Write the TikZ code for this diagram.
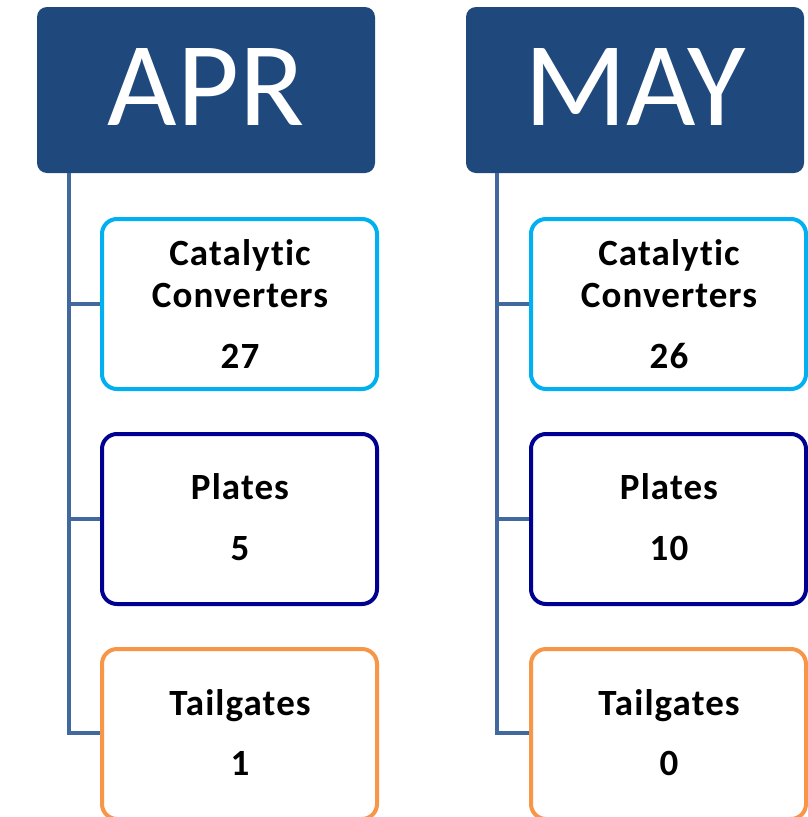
\documentclass[tikz,border=0pt]{standalone}
\usepackage{fontspec}
\setmainfont{Carlito}[Ligatures=NoCommon]
\newfontfamily\boxfont{Carlito}[Ligatures=NoCommon,LetterSpace=3]
\definecolor{hdr}{RGB}{31,73,125}
\definecolor{conn}{RGB}{65,105,158}
\definecolor{cyanb}{RGB}{0,176,240}
\definecolor{navyb}{RGB}{0,0,145}
\definecolor{orangeb}{RGB}{247,150,70}
\begin{document}
\begin{tikzpicture}[x=1pt,y=-1pt,
  header/.style={fill=hdr,rounded corners=10pt},
  hdrtext/.style={text=white,font=\fontsize{120}{140}\selectfont,anchor=base,inner sep=0pt},
  itembox/.style={draw=#1,line width=4pt,fill=white,rounded corners=15pt},
  lbl/.style={font=\boxfont\fontsize{37}{44}\bfseries\selectfont,anchor=base,inner sep=0pt},
  connector/.style={draw=conn,line width=4pt}]
\useasboundingbox (0,0) rectangle (808,817);
% headers
\path[header] (37,7) rectangle (375,173);
\node[hdrtext] (aprt) at (206,125) {APR};
\path[header] (466,7) rectangle (804,173);
\node[hdrtext] (mayt) at (635,125) {MAY};
% connectors
\coordinate (at) at (69,173);
\coordinate (ab) at (69,733);
\coordinate (mt) at (497,173);
\coordinate (mb) at (497,733);
\draw[connector] (at) -- (ab) -- (101,733);
\draw[connector] (69,304) -- (101,304);
\draw[connector] (69,519) -- (101,519);
\draw[connector] (mt) -- (mb) -- (530,733);
\draw[connector] (497,304) -- (530,304);
\draw[connector] (497,519) -- (530,519);
% APR boxes
\draw[itembox=cyanb] (102,219) rectangle (377,389);
\node[lbl] (a1a) at (240,265) {Catalytic};
\node[lbl] (a1b) at (240,307) {Converters};
\node[lbl] (a1c) at (240,368) {27};
\draw[itembox=navyb] (102,434) rectangle (377,604);
\node[lbl] (a2a) at (240,499) {Plates};
\node[lbl] (a2b) at (240,560) {5};
\draw[itembox=orangeb] (102,649) rectangle (377,819);
\node[lbl] (a3a) at (240,715) {Tailgates};
\node[lbl] (a3b) at (240,775) {1};
% MAY boxes
\draw[itembox=cyanb] (531,219) rectangle (806,389);
\node[lbl] (m1a) at (669,265) {Catalytic};
\node[lbl] (m1b) at (669,307) {Converters};
\node[lbl] (m1c) at (669,368) {26};
\draw[itembox=navyb] (531,434) rectangle (806,604);
\node[lbl] (m2a) at (669,499) {Plates};
\node[lbl] (m2b) at (669,560) {10};
\draw[itembox=orangeb] (531,649) rectangle (806,819);
\node[lbl] (m3a) at (669,715) {Tailgates};
\node[lbl] (m3b) at (669,775) {0};
\end{tikzpicture}
\end{document}
